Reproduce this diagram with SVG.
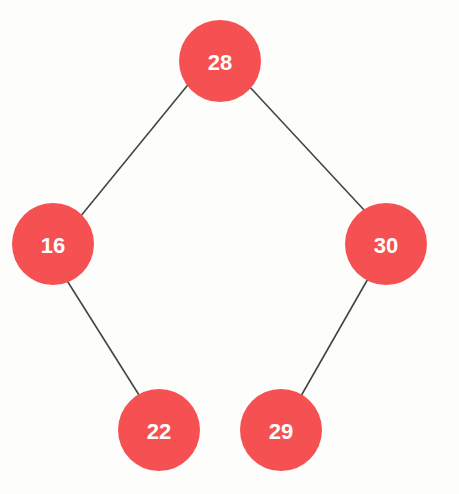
<svg xmlns="http://www.w3.org/2000/svg" width="459" height="494" viewBox="0 0 459 494">
<style>
.n circle{fill:#F55152}
.n text{fill:#FFFFFF;font-family:"Liberation Sans",Arial,sans-serif;font-weight:bold;font-size:22px;text-anchor:middle;dominant-baseline:central}
.e line{stroke:#444444;stroke-width:1.6}
</style>
<rect width="459" height="494" fill="#FDFDFC"/>
<g id="edges" class="e">
<line x1="191" y1="81" x2="80" y2="217"/>
<line x1="247" y1="84" x2="365" y2="211"/>
<line x1="66" y1="279" x2="139" y2="395"/>
<line x1="369" y1="277" x2="301" y2="396"/>
</g>
<g id="n28" class="n"><circle cx="220" cy="61" r="41"/><text x="220" y="62">28</text></g>
<g id="n16" class="n"><circle cx="53" cy="244" r="41"/><text x="53" y="245">16</text></g>
<g id="n30" class="n"><circle cx="386" cy="244" r="41"/><text x="386" y="245">30</text></g>
<g id="n22" class="n"><circle cx="159" cy="430" r="41"/><text x="159" y="431">22</text></g>
<g id="n29" class="n"><circle cx="281" cy="430" r="41"/><text x="281" y="431">29</text></g>
</svg>
